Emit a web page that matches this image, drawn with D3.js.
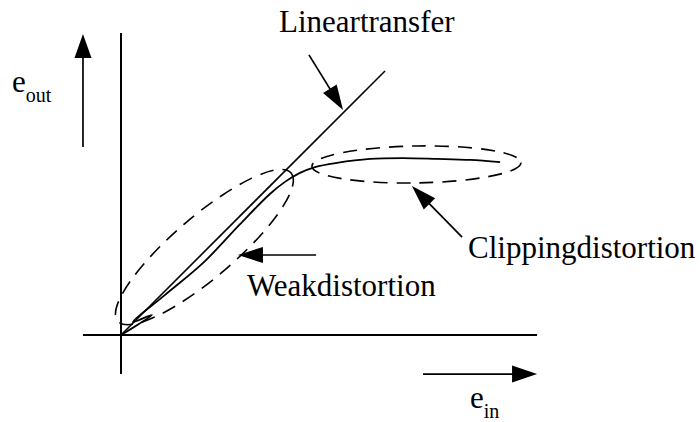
<!DOCTYPE html>
<html>
<head>
<meta charset="utf-8">
<script src="https://cdn.jsdelivr.net/npm/d3@7"></script>
<style>
  html, body { margin: 0; padding: 0; background: #fff; }
  svg { display: block; }
  text { font-family: "Liberation Serif", "Times New Roman", serif; fill: #000; }
</style>
</head>
<body>
<div id="chart"></div>
<script>
// transfer characteristic in input/output units, origin at (0,0)
const linearTransfer = [[0, 0], [10, 10]];
const distortedCurve = [[0, 0], [1.17, 0.76], [0.45, 0.49], [1.67, 1.52], [3.11, 2.73], [4.51, 4.2],
  [5.64, 5.34], [6.21, 5.8], [6.78, 6.14], [7.35, 6.36], [8.18, 6.52], [9.43, 6.67], [10.68, 6.7],
  [11.97, 6.67], [13.22, 6.63], [14.36, 6.55]];

// dashed regions (weak distortion, clipping distortion)
const regionCentres = [[3.16, 3.33], [11.19, 6.46]];
const regionRadii = [[4.32, 1.16], [3.96, 0.7]];
const regionTilt = [40.5, 1];

// pointer arrows, tail -> tip
const pointerFrom = [[7.12, 10.61], [12.92, 3.71], [7.39, 3.03]];
const pointerTo = [[8.41, 8.52], [11.02, 5.64], [4.43, 3.03]];
const pointerLabels = ["Lineartransfer", "Clippingdistortion", "Weakdistortion"];

// axes and direction arrows
const xAxisExtent = [-1.44, 15.76];
const yAxisExtent = [-1.48, 11.44];
const inArrow = [[11.44, -1.48], [15.76, -1.48]];
const outArrow = [[-1.44, 7.12], [-1.44, 11.4]];

const width = 700, height = 422;

const svg = d3.select("#chart")
  .append("svg")
  .attr("width", width)
  .attr("height", height);

// same px per unit on both axes
const x = d3.scaleLinear().domain([0, 10]).range([121, 385]);
const y = d3.scaleLinear().domain([0, 10]).range([335, 71]);
const unit = x(1) - x(0);

// axes
svg.append("line")
  .attr("x1", x(xAxisExtent[0])).attr("x2", x(xAxisExtent[1]))
  .attr("y1", y(0)).attr("y2", y(0))
  .attr("stroke", "#000").attr("stroke-width", 2);
svg.append("line")
  .attr("x1", x(0)).attr("x2", x(0))
  .attr("y1", y(yAxisExtent[0])).attr("y2", y(yAxisExtent[1]))
  .attr("stroke", "#000").attr("stroke-width", 2);

// dashed ellipses
svg.selectAll("ellipse.region")
  .data(regionCentres)
  .join("ellipse")
  .attr("class", "region")
  .attr("cx", 0).attr("cy", 0)
  .attr("rx", (d, i) => regionRadii[i][0] * unit)
  .attr("ry", (d, i) => regionRadii[i][1] * unit)
  .attr("transform", (d, i) => `translate(${x(d[0])},${y(d[1])}) rotate(${-regionTilt[i]})`)
  .attr("fill", "none")
  .attr("stroke", "#000")
  .attr("stroke-width", 1.6)
  .attr("stroke-dasharray", "14,9");

const line = d3.line().x(d => x(d[0])).y(d => y(d[1]));

// linear transfer
svg.append("path")
  .attr("d", line(linearTransfer))
  .attr("fill", "none").attr("stroke", "#000").attr("stroke-width", 1.6);

// distorted transfer
svg.append("path")
  .attr("d", line.curve(d3.curveCatmullRom.alpha(0.5))(distortedCurve))
  .attr("fill", "none").attr("stroke", "#000").attr("stroke-width", 1.8);

// arrow with filled head, in screen coordinates
function arrow(p, q, len, hw) {
  const x1 = x(p[0]), y1 = y(p[1]), x2 = x(q[0]), y2 = y(q[1]);
  const a = Math.atan2(y2 - y1, x2 - x1);
  const bx = x2 - len * Math.cos(a), by = y2 - len * Math.sin(a);
  svg.append("line")
    .attr("x1", x1).attr("y1", y1).attr("x2", bx + Math.cos(a)).attr("y2", by + Math.sin(a))
    .attr("stroke", "#000").attr("stroke-width", 1.7);
  const px = -Math.sin(a) * hw, py = Math.cos(a) * hw;
  svg.append("path")
    .attr("d", `M${x2},${y2}L${bx + px},${by + py}L${bx - px},${by - py}Z`)
    .attr("fill", "#000");
}

pointerFrom.forEach((p, i) => arrow(p, pointerTo[i], 25, 8));
arrow(inArrow[0], inArrow[1], 25, 8.5);
arrow(outArrow[0], outArrow[1], 24, 8.5);

// labels
const fontSize = 31;
svg.append("text").attr("x", 279).attr("y", 32)
  .attr("font-size", fontSize).text(pointerLabels[0]);
svg.append("text").attr("x", 468).attr("y", 258)
  .attr("font-size", fontSize).text(pointerLabels[1]);
svg.append("text").attr("x", 247).attr("y", 296)
  .attr("font-size", fontSize).text(pointerLabels[2]);

// e_out and e_in
const eOut = svg.append("text").attr("x", 12).attr("y", 92).attr("font-size", fontSize);
eOut.append("tspan").text("e");
eOut.append("tspan").attr("font-size", 20).attr("dy", 10).text("out");

const eIn = svg.append("text").attr("x", 470).attr("y", 408).attr("font-size", fontSize);
eIn.append("tspan").text("e");
eIn.append("tspan").attr("font-size", 20).attr("dy", 10).text("in");
</script>
</body>
</html>
